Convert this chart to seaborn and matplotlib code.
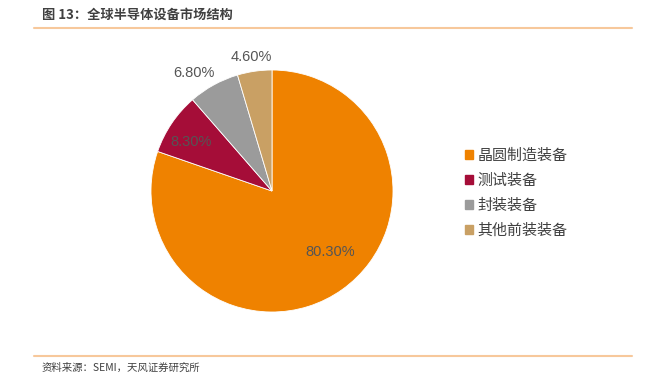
import matplotlib
matplotlib.use("Agg")
import matplotlib.pyplot as plt
import seaborn as sns
import numpy as np

categories = ["晶圆制造装备", "测试装备", "封装装备", "其他前装装备"]
shares = [80.30, 8.30, 6.80, 4.60]
colors = ["#EF8200", "#A50D38", "#9B9B9B", "#C9A064"]
label_dist = [0.70, 0.78, 1.17, 1.12]
label_shift = [8, 2.6, 4.5, 0.7]  # degrees, nudges like excel placement

sns.set_theme(style="white")
plt.rcParams["font.family"] = ["Noto Sans CJK SC", "DejaVu Sans"]

fig = plt.figure(figsize=(6.6, 3.85), dpi=100)

# header / footer
fig.text(42 / 660, 1 - 15 / 385, "图 13：全球半导体设备市场结构", fontsize=9.5,
         fontweight="bold", color="#404040", va="center", ha="left")
fig.add_artist(plt.Line2D([34 / 660, 632 / 660], [1 - 28 / 385] * 2,
                          color="#F7C89B", lw=1.5))
fig.add_artist(plt.Line2D([34 / 660, 632 / 660], [1 - 356 / 385] * 2,
                          color="#F7C89B", lw=1.5))
fig.text(42 / 660, 1 - 368 / 385, "资料来源：SEMI，天风证券研究所", fontsize=7.5,
         color="#404040", va="center", ha="left")

cx, cy, r = 272 / 660, 1 - 191 / 385, 121
ax = fig.add_axes([cx - r / 660, cy - r / 385, 2 * r / 660, 2 * r / 385])
wedges, _ = ax.pie(shares, colors=colors, startangle=90, counterclock=False,
                   wedgeprops=dict(edgecolor="white", linewidth=0.6))
ax.set_aspect("equal")
ax.set_xlim(-1, 1)
ax.set_ylim(-1, 1)
ax.axis("off")

for w, v, d, s in zip(wedges, shares, label_dist, label_shift):
    ang = np.deg2rad((w.theta1 + w.theta2) / 2 + s)
    ax.text(d * np.cos(ang), d * np.sin(ang), f"{v:.2f}%", fontsize=10.5,
            family="Liberation Sans", color="#555555", ha="center",
            va="center", clip_on=False)

handles = [plt.Rectangle((0, 0), 1, 1, color=c) for c in colors]
fig.legend(handles, categories, loc="center left",
           bbox_to_anchor=(451 / 660, 1 - 193 / 385), frameon=False,
           fontsize=10.8, labelcolor="#404040", handlelength=0.55,
           handleheight=0.55, handletextpad=0.3, labelspacing=0.72)

fig.savefig("out.png", dpi=100)
